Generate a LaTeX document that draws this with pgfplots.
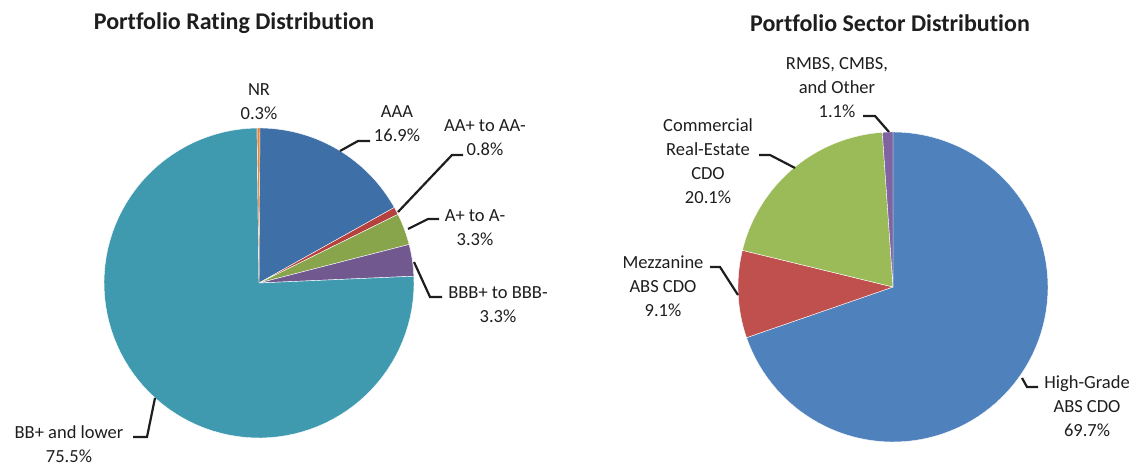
\documentclass[border=0pt]{standalone}
\usepackage{pgfplots}
\pgfplotsset{compat=1.18}
\usepackage{fontspec}
\setmainfont{Carlito}[Ligatures={NoCommon}]
\definecolor{cAAA}{HTML}{3E6FA6}
\definecolor{cAA}{HTML}{B5423F}
\definecolor{cA}{HTML}{88A54C}
\definecolor{cBBB}{HTML}{71588F}
\definecolor{cBB}{HTML}{3F9AB0}
\definecolor{cNR}{HTML}{E8863A}
\definecolor{sHG}{HTML}{4F81BD}
\definecolor{sMZ}{HTML}{C0504D}
\definecolor{sCRE}{HTML}{9BBB59}
\definecolor{sRM}{HTML}{8064A2}
\definecolor{txt}{HTML}{1E1E1E}
% slice: #1 cumulative percent before, #2 percent, #3 colour
\newcommand{\slice}[3]{%
  \addplot[fill=#3, draw=white, line width=0.4pt, domain={90-3.6*(#1+#2)}:{90-3.6*(#1)}, samples=90, variable=\t]
    ({155*cos(\t)},{155*sin(\t)}) -- (axis cs:0,0) -- cycle;}
\pgfplotsset{pie/.style={hide axis, scale only axis, width=310pt, height=310pt,
  xmin=-155, xmax=155, ymin=-155, ymax=155, clip=false, anchor=center}}
\tikzset{lbl/.style={font=\fontsize{18.5}{24}\selectfont, text=txt, align=center, inner sep=0pt},
  ttl/.style={font=\fontsize{24}{28}\selectfont\bfseries, text=txt, inner sep=0pt}}
\begin{document}
\begin{tikzpicture}
\useasboundingbox (0,0) rectangle (1134pt,465pt);
% ---------------- Rating distribution ----------------
\begin{axis}[pie, at={(259pt,182pt)}]
\slice{0}{16.9}{cAAA}
\slice{16.9}{0.8}{cAA}
\slice{17.7}{3.3}{cA}
\slice{21.0}{3.3}{cBBB}
\slice{24.3}{75.5}{cBB}
\slice{99.8}{0.3}{cNR}
\addplot[txt, line width=2.2pt] coordinates {(81,132) (99,142) (111,142)};
\addplot[txt, line width=2.2pt] coordinates {(139,71) (193,128) (204,128)};
\addplot[txt, line width=2.2pt] coordinates {(149,54) (169,64) (180,64)};
\addplot[txt, line width=2.2pt] coordinates {(155,21) (171,-14) (183,-14)};
\addplot[txt, line width=2.2pt] coordinates {(-104,-115) (-112,-154) (-126,-154)};
\node[lbl] at (axis cs:0,181.5) {NR\\0.3\%};
\node[lbl] at (axis cs:138,159) {AAA\\16.9\%};
\node[lbl] at (axis cs:226,145) {AA+ to AA-\\0.8\%};
\node[lbl] at (axis cs:216,55) {A+ to A-\\3.3\%};
\node[lbl] at (axis cs:239,-22) {BBB+ to BBB-\\3.3\%};
\node[lbl] at (axis cs:-190,-161) {BB+ and lower\\75.5\%};
\node[ttl] at (axis cs:-25,260) {Portfolio Rating Distribution};
\end{axis}
% ---------------- Sector distribution ----------------
\begin{axis}[pie, at={(893pt,178pt)}]
\slice{0}{69.7}{sHG}
\slice{69.7}{9.1}{sMZ}
\slice{78.8}{20.1}{sCRE}
\slice{98.9}{1.1}{sRM}
\addplot[txt, line width=2.2pt] coordinates {(-30,171) (-18,171) (-4,155)};
\addplot[txt, line width=2.2pt] coordinates {(-134,132) (-123,132) (-98,119)};
\addplot[txt, line width=2.2pt] coordinates {(-183,20) (-173,20) (-155,-8)};
\addplot[txt, line width=2.2pt] coordinates {(129,-91) (134,-100) (145,-100)};
\node[lbl] at (axis cs:-56,199.5) {RMBS, CMBS,\\and Other\\1.1\%};
\node[lbl] at (axis cs:-185,125.5) {Commercial\\Real-Estate\\CDO\\20.1\%};
\node[lbl] at (axis cs:-230,1) {Mezzanine\\ABS CDO\\9.1\%};
\node[lbl] at (axis cs:194,-119.5) {High-Grade\\ABS CDO\\69.7\%};
\node[ttl] at (axis cs:-3,264) {Portfolio Sector Distribution};
\end{axis}
\end{tikzpicture}
\end{document}
